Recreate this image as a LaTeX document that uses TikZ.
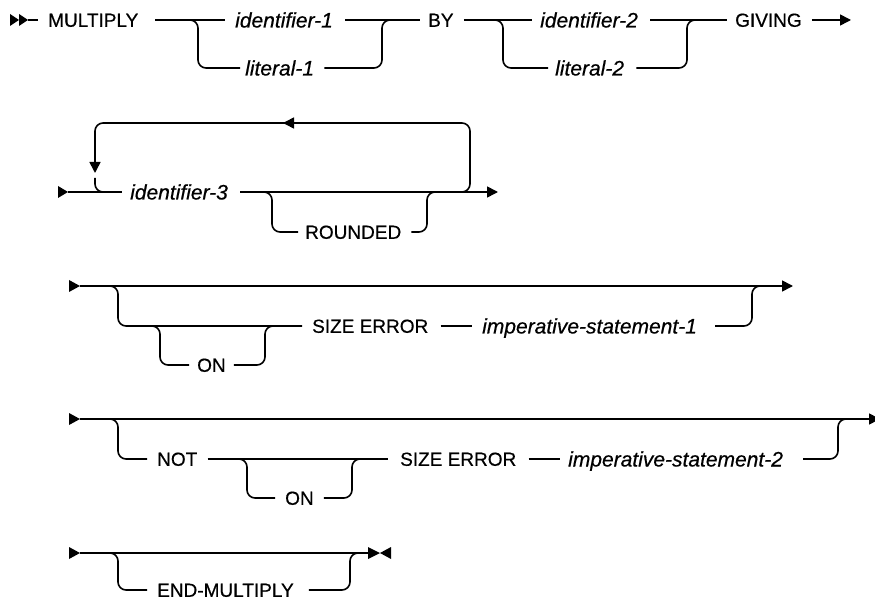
\documentclass[tikz,border=0pt]{standalone}
\usepackage{fontspec}
\setmainfont{Liberation Sans}[FakeBold=0.5]
\usetikzlibrary{arrows.meta}
\newcommand{\kwfont}{\fontsize{19}{22}\selectfont}
\newcommand{\varfont}{\fontsize{21}{24}\selectfont\itshape}
\tikzset{
  rail/.style={line width=1.6pt, rounded corners=8pt},
  arr/.style={-{Triangle[length=11pt,width=11pt]}},
  kw/.style={font=\kwfont, inner sep=0pt, anchor=west, text height=13.6pt, text depth=0pt},
  var/.style={font=\varfont, inner sep=0pt, anchor=west, text height=15pt, text depth=0pt},
  tri/.style={fill=black}
}
\begin{document}
\begin{tikzpicture}[x=1pt,y=-1pt]
\useasboundingbox (0,0) rectangle (875,601);

% ---------- Row 1 ----------
\node[kw]  (mult)   at (48,20)  {MULTIPLY};
\node[var] (id1)    at (235,20) {identifier-1};
\node[var] (lit1)   at (245,68) {literal-1};
\node[kw]  (by)     at (428,20) {BY};
\node[var] (id2)    at (540,20) {identifier-2};
\node[var] (lit2)   at (555,68) {literal-2};
\node[kw]  (giving) at (735,20) {GIVING};
\coordinate (r1s) at (28,20);
\coordinate (r1e) at (851,20);
\coordinate (j1a) at (188,20);
\coordinate (j1b) at (382,20);
\coordinate (j2a) at (493,20);
\coordinate (j2b) at (687,20);

\fill[tri] (10,14) -- (19,20) -- (10,26) -- cycle;
\fill[tri] (19,14) -- (28,20) -- (19,26) -- cycle;
\draw[rail] (r1s) -- ([xshift=-10pt]mult.west);
\draw[rail] ([xshift=17pt]mult.east) -- ([xshift=-10pt]id1.west);
\draw[rail] (j1a) -| (198,68) -- ([xshift=-5pt]lit1.west);
\draw[rail] ([xshift=12pt]id1.east) -- ([xshift=-8pt]by.west);
\draw[rail] ([xshift=10pt]lit1.east) -| (j1b) -- ([xshift=10pt]j1b);
\draw[rail] ([xshift=10pt]by.east) -- ([xshift=-8pt]id2.west);
\draw[rail] (j2a) -| (503,68) -- ([xshift=-7pt]lit2.west);
\draw[rail] ([xshift=12pt]id2.east) -- ([xshift=-8pt]giving.west);
\draw[rail] ([xshift=12pt]lit2.east) -| (j2b) -- ([xshift=10pt]j2b);
\draw[rail,arr] ([xshift=10pt]giving.east) -- (r1e);

% ---------- Row 2 ----------
\node[var] (id3) at (130,192) {identifier-3};
\node[kw]  (rnd) at (305,232) {ROUNDED};
\coordinate (r2s) at (68,192);
\coordinate (r2e) at (498,192);
\coordinate (jr1) at (262,192);
\coordinate (jr2) at (427,192);
\coordinate (lp1) at (458,192);
\coordinate (lpt) at (283,123);
\coordinate (lpd) at (95,173);
\coordinate (lp2) at (110,192);

\fill[tri] (58,186) -- (68,192) -- (58,198) -- cycle;
\draw[rail] (r2s) -- ([xshift=-8pt]id3.west);
\draw[rail,arr] ([xshift=12pt]id3.east) -- (r2e);
\draw[rail] (jr1) -| (272,232) -- ([xshift=-7pt]rnd.west);
\draw[rail] ([xshift=10pt]rnd.east) -| (jr2) -- ([xshift=10pt]jr2);
\draw[rail,arr] (lp1) -| (470,123) -- (lpt);
\draw[rail,arr] ([xshift=8pt]lpt) -| (lpd);
\draw[rail] ([yshift=-5pt]lpd) |- (lp2);

% ---------- Row 3 ----------
\node[kw]  (on1)  at (197,365) {ON};
\node[kw]  (se1)  at (312,326) {SIZE ERROR};
\node[var] (imp1) at (482,326) {imperative-statement-1};
\coordinate (r3s) at (80,286);
\coordinate (r3e) at (793,286);
\coordinate (j3a) at (108,286);
\coordinate (j3b) at (150,326);
\coordinate (j3c) at (265,326);
\coordinate (j3d) at (752,286);

\fill[tri] (69,280) -- (80,286) -- (69,292) -- cycle;
\draw[rail,arr] (r3s) -- (r3e);
\draw[rail] (j3a) -| (118,326) -- ([xshift=-10pt]se1.west);
\draw[rail] (j3b) -| (160,365) -- ([xshift=-8pt]on1.west);
\draw[rail] ([xshift=8pt]on1.east) -| (j3c) -- ([xshift=10pt]j3c);
\draw[rail] ([xshift=12pt]se1.east) -- ([xshift=-10pt]imp1.west);
\draw[rail] ([xshift=18pt]imp1.east) -| (j3d) -- ([xshift=10pt]j3d);

% ---------- Row 4 ----------
\node[kw]  (not)  at (157,459) {NOT};
\node[kw]  (on2)  at (285,498) {ON};
\node[kw]  (se2)  at (400,459) {SIZE ERROR};
\node[var] (imp2) at (568,459) {imperative-statement-2};
\coordinate (r4s) at (80,419);
\coordinate (r4e) at (880,419);
\coordinate (j4a) at (108,419);
\coordinate (j4b) at (237,459);
\coordinate (j4c) at (352,459);
\coordinate (j4d) at (838,419);

\fill[tri] (69,413) -- (80,419) -- (69,425) -- cycle;
\draw[rail,arr] (r4s) -- (r4e);
\draw[rail] (j4a) -| (118,459) -- ([xshift=-10pt]not.west);
\draw[rail] ([xshift=10pt]not.east) -- ([xshift=-12pt]se2.west);
\draw[rail] (j4b) -| (247,498) -- ([xshift=-10pt]on2.west);
\draw[rail] ([xshift=10pt]on2.east) -| (j4c) -- ([xshift=10pt]j4c);
\draw[rail] ([xshift=12pt]se2.east) -- ([xshift=-8pt]imp2.west);
\draw[rail] ([xshift=20pt]imp2.east) -| (j4d) -- ([xshift=10pt]j4d);

% ---------- Row 5 ----------
\node[kw] (endm) at (157,590) {END-MULTIPLY};
\coordinate (r5s) at (80,553);
\coordinate (r5e) at (368,553);
\coordinate (j5a) at (108,553);
\coordinate (j5b) at (350,553);

\fill[tri] (69,547) -- (80,553) -- (69,559) -- cycle;
\draw[rail] (r5s) -- (r5e);
\draw[rail] (j5a) -| (118,590) -- ([xshift=-10pt]endm.west);
\draw[rail] ([xshift=15pt]endm.east) -| (j5b) -- ([xshift=10pt]j5b);
\fill[tri] (368,547) -- (380,553) -- (368,559) -- cycle;
\fill[tri] (391,547) -- (380,553) -- (391,559) -- cycle;
\end{tikzpicture}
\end{document}
